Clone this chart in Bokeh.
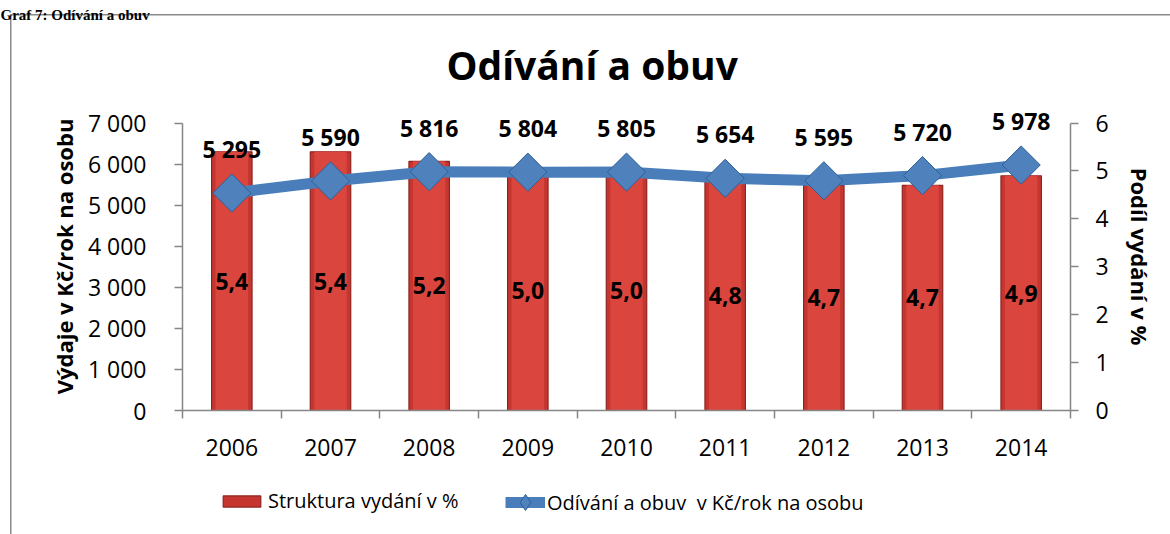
from bokeh.plotting import figure
from bokeh.models import (Range1d, LinearAxis, FixedTicker, Legend, LegendItem, Title)
from bokeh.layouts import column
from bokeh.core.properties import value
from bokeh.embed import file_html
from bokeh.resources import INLINE
import math

years = ["2006", "2007", "2008", "2009", "2010", "2011", "2012", "2013", "2014"]
spend = [5295, 5590, 5816, 5804, 5805, 5654, 5595, 5720, 5978]
share = [5.4, 5.4, 5.2, 5.0, 5.0, 4.8, 4.7, 4.7, 4.9]
left_ticks = [0, 1000, 2000, 3000, 4000, 5000, 6000, 7000]
right_ticks = [0, 1, 2, 3, 4, 5, 6]

FONT = "Open Sans"
AX = "#868686"
BAR_FILL, BAR_LINE, BAR_HI = "#C4362F", "#8E2420", "#DA453E"
LINE_C, MK_FILL, MK_LINE = "#4A7EBB", "#4F81BD", "#2E5F94"
GRAY = "#8a8a8a"
TICK_FS = "23px"
LBL_FS = "23px"

n = len(years)
xc = [i + 0.5 for i in range(n)]
spend_lbl = [f"{v:,}".replace(",", " ") for v in spend]
share_lbl = [f"{v:.1f}".replace(".", ",") for v in share]
share_mid = [v / 2 for v in share]

YMAX = 7500  # headroom above the 7 000 axis end for the labels
RMAX = right_ticks[-1] * YMAX / left_ticks[-1]

p = figure(width=1170, height=470, x_range=Range1d(0, n), y_range=Range1d(0, YMAX),
           output_backend="svg", toolbar_location=None,
           min_border_left=182, min_border_right=100, min_border_top=102, min_border_bottom=60)
p.extra_y_ranges = {"pct": Range1d(0, RMAX)}
p.xgrid.visible = False
p.ygrid.visible = False
p.outline_line_color = None
p.background_fill_color = None
p.border_fill_color = None
p.styles = {
    "background-color": "white",
    "background-image": f"linear-gradient({GRAY}, {GRAY}), linear-gradient({GRAY}, {GRAY})",
    "background-size": "1.5px 600px, 1300px 1.5px",
    "background-position": "10px 14px, 10px 14px",
    "background-repeat": "no-repeat",
}

# outermost title: the caption above the frame box
p.title.text = "Graf 7: Odívání a obuv"
p.title.align = "left"
p.title.offset = -182
p.title.standoff = 2
p.title.text_font = "Liberation Serif"
p.title.text_font_size = "15px"
p.title.text_font_style = "bold"
p.title.text_color = "black"

# chart title (inner)
p.add_layout(Title(text="Odívání a obuv", align="left", offset=264, standoff=24,
                   text_font=FONT, text_font_size="39px", text_font_style="bold",
                   text_color="black"), "above")

# x axis
xa = p.xaxis[0]
xa.ticker = FixedTicker(ticks=xc, minor_ticks=list(range(n + 1)))
xa.major_label_overrides = {c: y for c, y in zip(xc, years)}
xa.major_tick_out = 0
xa.major_tick_in = 0
xa.minor_tick_out = 8
xa.minor_tick_in = 0
xa.major_label_standoff = 20
xa.axis_line_color = AX
xa.axis_line_width = 1.5
xa.minor_tick_line_color = AX
xa.minor_tick_line_width = 1.5
xa.major_label_text_font = FONT
xa.major_label_text_font_size = TICK_FS
xa.major_label_text_color = "black"

# left axis
ya = p.yaxis[0]
ya.ticker = FixedTicker(ticks=left_ticks)
ya.bounds = (left_ticks[0], left_ticks[-1])
ya.major_label_overrides = {t: f"{t:,}".replace(",", " ") for t in left_ticks}
ya.minor_tick_line_color = None
ya.major_tick_out = 8
ya.major_tick_in = 0
ya.major_label_standoff = 28
ya.axis_line_color = AX
ya.axis_line_width = 1.5
ya.major_tick_line_color = AX
ya.major_tick_line_width = 1.5
ya.major_label_text_font = FONT
ya.major_label_text_font_size = TICK_FS
ya.major_label_text_color = "black"
ya.axis_label = "Výdaje v Kč/rok na osobu"
ya.axis_label_text_font = FONT
ya.axis_label_text_font_size = "22px"
ya.axis_label_text_font_style = "bold"
ya.axis_label_text_color = "black"
ya.axis_label_standoff = 6

# right axis
ra = LinearAxis(y_range_name="pct", ticker=FixedTicker(ticks=right_ticks))
ra.bounds = (right_ticks[0], right_ticks[-1])
ra.minor_tick_line_color = None
ra.major_tick_out = 8
ra.major_tick_in = 0
ra.major_label_standoff = 17
ra.axis_line_color = AX
ra.axis_line_width = 1.5
ra.major_tick_line_color = AX
ra.major_tick_line_width = 1.5
ra.major_label_text_font = FONT
ra.major_label_text_font_size = TICK_FS
ra.major_label_text_color = "black"
ra.axis_label = "Podíl vydání v %"
ra.axis_label_text_font = FONT
ra.axis_label_text_font_size = "22px"
ra.axis_label_text_font_style = "bold"
ra.axis_label_text_color = "black"
ra.axis_label_standoff = 13
p.add_layout(ra, "right")

# bars (share, right axis)
p.vbar(x=xc, top=share, width=0.41, y_range_name="pct",
       fill_color=BAR_FILL, line_color=BAR_LINE, line_width=1.2)
p.vbar(x=xc, top=share, width=0.33, y_range_name="pct", fill_color=BAR_HI, line_color=None)

# line (spend, left axis)
p.line(x=xc, y=spend, line_color=LINE_C, line_width=11)
p.scatter(x=xc, y=spend, marker="square", angle=math.pi / 4, size=27,
          fill_color=MK_FILL, line_color=MK_LINE, line_width=1)

# data labels
p.text(x=xc, y=spend, text=spend_lbl, y_offset=-44, text_align="center",
       text_baseline="middle", text_font=value(FONT), text_font_style="bold",
       text_font_size=LBL_FS, text_color="black")
p.text(x=xc, y=share_mid, text=share_lbl, y_range_name="pct", text_align="center",
       text_baseline="middle", text_font=value(FONT), text_font_style="bold",
       text_font_size=LBL_FS, text_color="black")

# legend strip (separate canvas so the legend sits inside a frame)
q = figure(width=1170, height=64, x_range=Range1d(0, 1), y_range=Range1d(0, 1),
           output_backend="svg", toolbar_location=None, x_axis_type=None, y_axis_type=None,
           min_border=0)
q.xgrid.visible = False
q.ygrid.visible = False
q.outline_line_color = None
q.background_fill_color = None
q.border_fill_color = None
q.styles = {
    "background-color": "white",
    "background-image": f"linear-gradient({GRAY}, {GRAY})",
    "background-size": "1.5px 200px",
    "background-position": "10px 0px",
    "background-repeat": "no-repeat",
}
lb = q.vbar(x=xc, top=share, width=0.4, fill_color=BAR_FILL, line_color=BAR_LINE,
            line_width=1.2, visible=False)
ll = q.line(x=xc, y=spend, line_color=LINE_C, line_width=11, visible=False)
lm = q.scatter(x=xc, y=spend, marker="diamond", size=27,
               fill_color=MK_FILL, line_color=MK_LINE, line_width=1, visible=False)

common = dict(orientation="horizontal", border_line_color=None, background_fill_alpha=0,
              padding=0, margin=0, label_text_font=FONT, label_text_font_size="20px",
              label_text_color="black", label_height=24, inactive_fill_alpha=0)
leg1 = Legend(items=[LegendItem(label="Struktura vydání v %", renderers=[lb], index=0)],
              location=(36, 20), glyph_width=47, glyph_height=14, label_standoff=3, **common)
leg2 = Legend(items=[LegendItem(label="Odívání a obuv  v Kč/rok na osobu", renderers=[ll, lm], index=0)],
              location=(323, 10), glyph_width=40, glyph_height=44, label_standoff=2, **common)
q.add_layout(leg1)
q.add_layout(leg2)

layout = column(p, q, spacing=0)
open("out.html", "w").write(file_html(layout, INLINE))
